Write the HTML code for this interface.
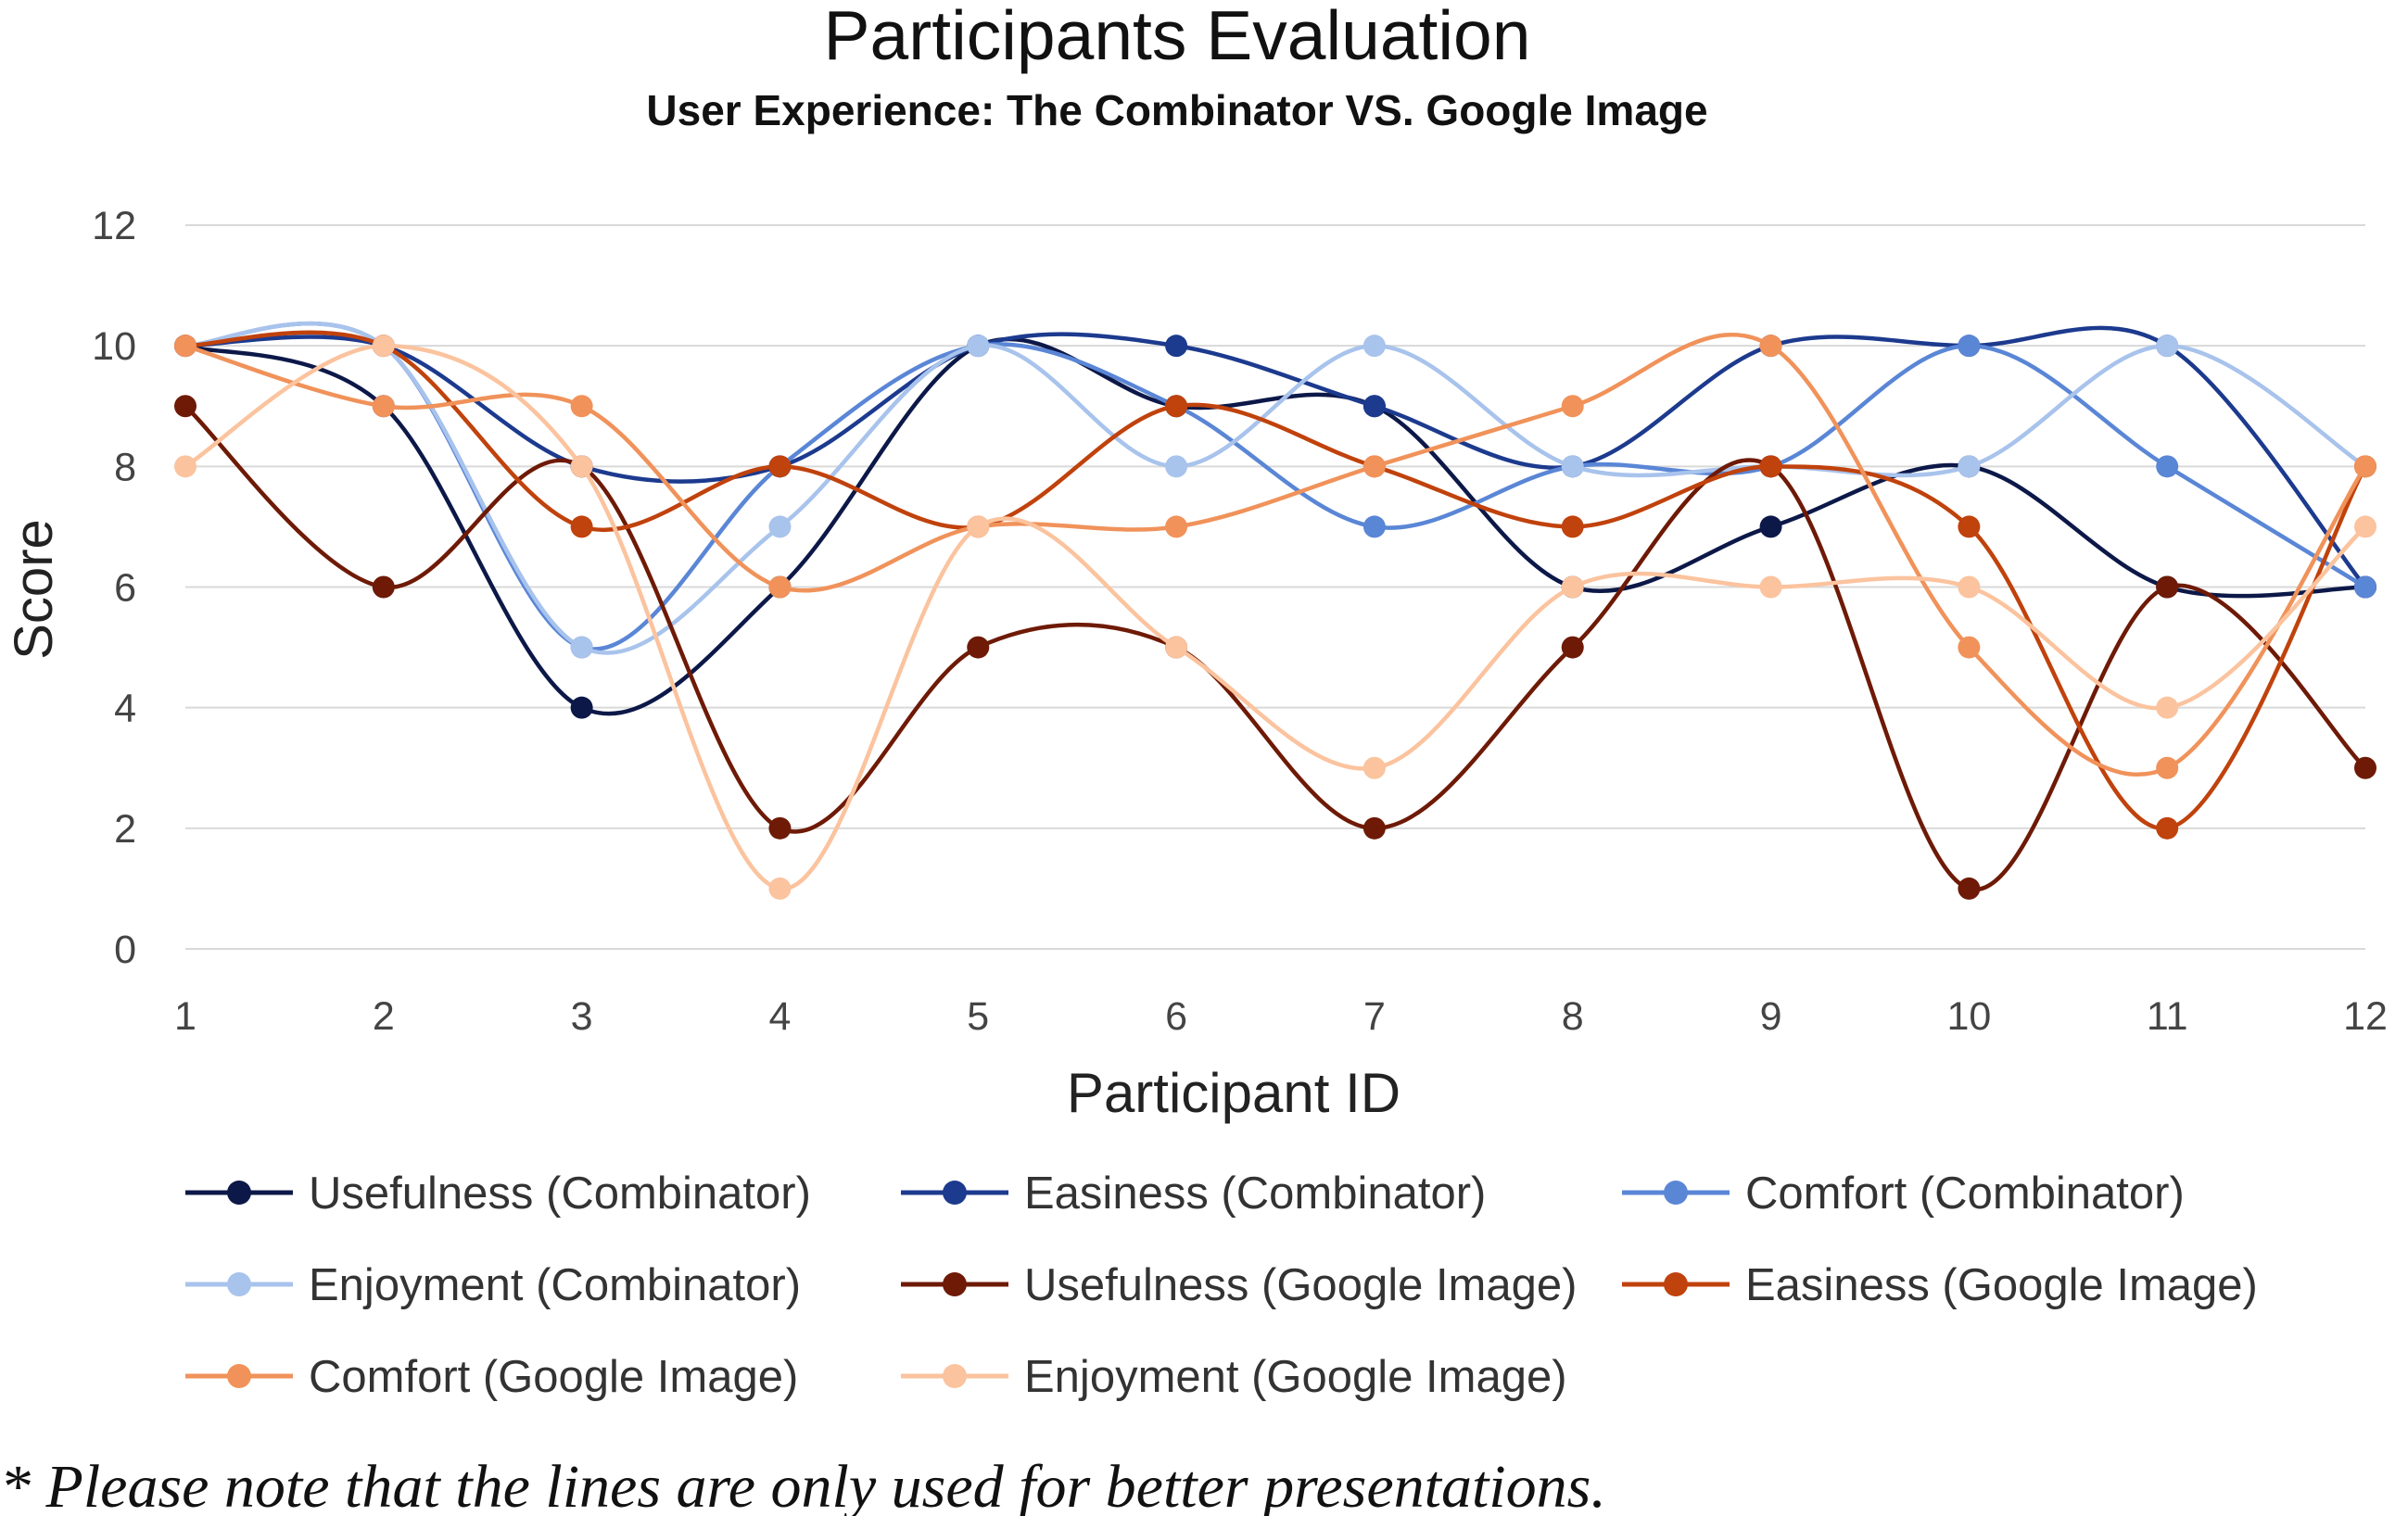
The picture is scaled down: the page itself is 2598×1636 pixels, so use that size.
<!DOCTYPE html>
<html><head><meta charset="utf-8"><style>
html,body{margin:0;padding:0;background:#fff;}
svg{display:block;font-family:"Liberation Sans","DejaVu Sans",sans-serif;}
</style></head><body>
<svg id="chart" width="2598" height="1636" viewBox="0 0 2598 1636" xmlns="http://www.w3.org/2000/svg">
<text x="1270" y="64" font-size="75" text-anchor="middle" fill="#111">Participants Evaluation</text>
<text x="1270" y="135" font-size="46" font-weight="bold" text-anchor="middle" fill="#111">User Experience: The Combinator VS. Google Image</text>
<g id="grid"></g>
<g id="yticks"></g>
<g id="xticks"></g>
<g id="series"></g>
<text x="1331" y="1200" font-size="60" text-anchor="middle" fill="#222">Participant ID</text>
<text x="0" y="0" font-size="58" text-anchor="middle" fill="#222" transform="translate(56,636) rotate(-90)">Score</text>
<g id="legend"></g>
<text x="0" y="1626" font-size="66" font-style="italic" font-family="Liberation Serif, serif" fill="#111">* Please note that the lines are only used for better presentations.</text>
</svg>
<script>
const categories=[1,2,3,4,5,6,7,8,9,10,11,12];
const yTicks=[0,2,4,6,8,10,12];
const seriesNames=["Usefulness (Combinator)","Easiness (Combinator)","Comfort (Combinator)","Enjoyment (Combinator)","Usefulness (Google Image)","Easiness (Google Image)","Comfort (Google Image)","Enjoyment (Google Image)"];
const usefulnessComb=[10,9,4,6,10,9,9,6,7,8,6,6];
const easinessComb=[10,10,8,8,10,10,9,8,10,10,10,6];
const comfortComb=[10,10,5,8,10,9,7,8,8,10,8,6];
const enjoymentComb=[10,10,5,7,10,8,10,8,8,8,10,8];
const usefulnessGoogle=[9,6,8,2,5,5,2,5,8,1,6,3];
const easinessGoogle=[10,10,7,8,7,9,8,7,8,7,2,8];
const comfortGoogle=[10,9,9,6,7,7,8,9,10,5,3,8];
const enjoymentGoogle=[8,10,8,1,7,5,3,6,6,6,4,7];
const allSeries=[usefulnessComb,easinessComb,comfortComb,enjoymentComb,usefulnessGoogle,easinessGoogle,comfortGoogle,enjoymentGoogle];
const colors=["#0c1848","#1c3a8e","#5a86d6","#a8c3ec","#6e1a06","#c0420c","#f0925a","#fbc39e"];
const NS="http://www.w3.org/2000/svg";
const X0=200,X1=2552,Y0=1024,Y1=243;
const xs=v=>X0+(v-1)/(11)*(X1-X0);
const ys=v=>Y0+v/12*(Y1-Y0);
function mk(tag,attrs,parent){const e=document.createElementNS(NS,tag);for(const k in attrs)e.setAttribute(k,attrs[k]);parent.appendChild(e);return e;}
const grid=document.getElementById('grid'),yt=document.getElementById('yticks'),xt=document.getElementById('xticks'),sg=document.getElementById('series'),lg=document.getElementById('legend');
yTicks.forEach(t=>{
 const l=mk('line',{x1:X0,x2:X1,y1:ys(t),y2:ys(t),stroke:'#d9d9d9','stroke-width':2},grid);
 
 
 const tx=mk('text',{x:147,y:ys(t)+15,'font-size':43,'text-anchor':'end',fill:'#444'},yt);
 tx.textContent=t;
 
 
});
categories.forEach(c=>{
 const tx=mk('text',{x:xs(c),y:1111,'font-size':43,'text-anchor':'middle',fill:'#444'},xt);
 tx.textContent=c;
 
 
});
function smoothPath(pts){
 let d=`M${pts[0][0]},${pts[0][1]}`;
 for(let i=0;i<pts.length-1;i++){
  const p0=pts[Math.max(0,i-1)],p1=pts[i],p2=pts[i+1],p3=pts[Math.min(pts.length-1,i+2)];
  const t=1/6;
  const c1=[p1[0]+(p2[0]-p0[0])*t,p1[1]+(p2[1]-p0[1])*t];
  const c2=[p2[0]-(p3[0]-p1[0])*t,p2[1]-(p3[1]-p1[1])*t];
  d+=` C${c1[0]},${c1[1]} ${c2[0]},${c2[1]} ${p2[0]},${p2[1]}`;
 }
 return d;
}
allSeries.forEach((vals,si)=>{
 const g=mk('g',{},sg);
 
 
 const pts=vals.map((v,i)=>[xs(categories[i]),ys(v)]);
 const p=mk('path',{d:smoothPath(pts),fill:'none',stroke:colors[si],'stroke-width':4.5},g);
 
 
 pts.forEach(pt=>{
  const c=mk('circle',{cx:pt[0],cy:pt[1],r:12,fill:colors[si]},g);
  
  
 });
});
const colX=[200,972,1750],rowY=[1287,1386,1485];
seriesNames.forEach((n,i)=>{
 const x=colX[i%3],y=rowY[Math.floor(i/3)];
 const g=mk('g',{},lg);
 
 
 mk('line',{x1:x,x2:x+116,y1:y,y2:y,stroke:colors[i],'stroke-width':5},g);
 mk('circle',{cx:x+58,cy:y,r:13,fill:colors[i]},g);
 const t=mk('text',{x:x+133,y:y+17,'font-size':49,fill:'#333'},g);
 t.textContent=n;
});
</script>
</body></html>
